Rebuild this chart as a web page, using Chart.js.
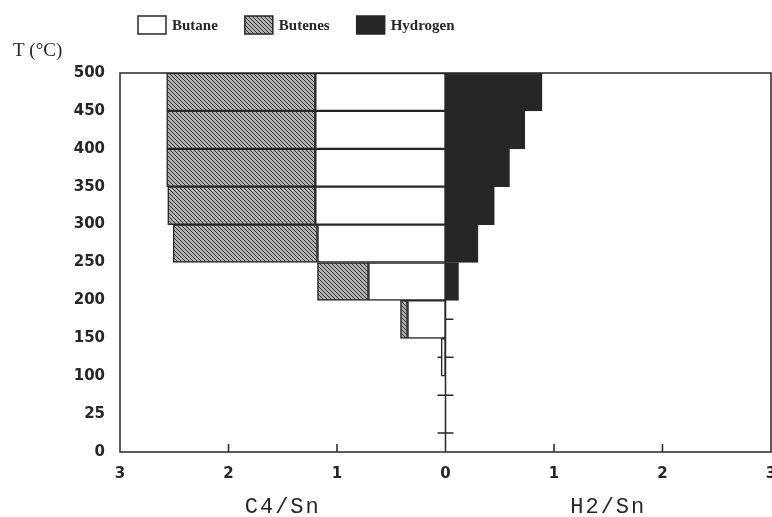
<!DOCTYPE html>
<html>
<head>
<meta charset="utf-8">
<script src="https://cdn.jsdelivr.net/npm/chart.js@4.4.0/dist/chart.umd.min.js"></script>
<style>
  html, body { margin: 0; padding: 0; background: #fff; }
  #wrap { width: 772px; height: 517px; }
</style>
</head>
<body>
<div id="wrap"><canvas id="chart"></canvas></div>
<script>
// temperature boundaries, bottom to top; each bar fills the band between two of them
const tempTicks = ['0', '25', '100', '150', '200', '250', '300', '350', '400', '450', '500'];
// one value per band, bottom band first
const butane   = [0, 0, 0.04, 0.35, 0.71, 1.18, 1.20, 1.20, 1.20, 1.20];
const butenes  = [0, 0, 0, 0.065, 0.47, 1.33, 1.36, 1.37, 1.37, 1.37];
const hydrogen = [0, 0, 0, 0, 0.12, 0.30, 0.45, 0.59, 0.73, 0.89];

const ink = '#262626';
const tickFont = { family: 'DejaVu Sans', size: 15, weight: 'bold' };

const canvas = document.getElementById('chart');

function hatchPattern() {
  const c = document.createElement('canvas');
  c.width = 4;
  c.height = 4;
  const g = c.getContext('2d');
  g.fillStyle = '#b0b0b0';
  g.fillRect(0, 0, 4, 4);
  g.strokeStyle = '#333333';
  g.lineWidth = 1;
  g.beginPath();
  g.moveTo(0, 0); g.lineTo(4, 4);
  g.moveTo(-1, 3); g.lineTo(1, 5);
  g.moveTo(3, -1); g.lineTo(5, 1);
  g.stroke();
  return canvas.getContext('2d').createPattern(c, 'repeat');
}

// left side (C4/Sn) runs to negative x, right side (H2/Sn) positive
const toPoints = (arr, sgn) => arr.map((v, i) => ({ x: v ? sgn * v : null, y: i + 0.5 }));

const barStyle = {
  borderColor: ink,
  borderWidth: 1.5,
  borderSkipped: false,
  grouped: false,
  barPercentage: 1,
  categoryPercentage: 1,
};

const decor = {
  id: 'decor',
  beforeDatasetsDraw(chart) {
    const { ctx, chartArea: a, scales: { x, y } } = chart;
    const x0 = x.getPixelForValue(0);
    ctx.save();
    ctx.strokeStyle = ink;
    ctx.lineWidth = 1.5;
    ctx.beginPath();
    ctx.moveTo(x0, a.top);
    ctx.lineTo(x0, a.bottom);
    for (let i = 0; i < tempTicks.length - 1; i++) {
      const py = y.getPixelForValue(i + 0.5);
      ctx.moveTo(x0 - 8, py);
      ctx.lineTo(x0 + 8, py);
    }
    ctx.stroke();
    ctx.restore();
  },
  afterDatasetsDraw(chart) {
    const { ctx, chartArea: a, scales: { x } } = chart;
    ctx.save();
    ctx.strokeStyle = ink;
    ctx.lineWidth = 1.5;
    ctx.strokeRect(a.left, a.top, a.right - a.left, a.bottom - a.top);
    ctx.beginPath();
    [-2, -1, 1, 2].forEach(v => {
      const px = x.getPixelForValue(v);
      ctx.moveTo(px, a.bottom);
      ctx.lineTo(px, a.bottom - 8);
    });
    ctx.stroke();
    ctx.restore();
  },
  afterDraw(chart) {
    const { ctx, scales: { x } } = chart;
    ctx.save();
    ctx.fillStyle = ink;
    ctx.textBaseline = 'alphabetic';

    // axis titles
    ctx.font = '19px "Liberation Serif"';
    ctx.textAlign = 'left';
    ctx.fillText('T (°C)', 13, 56);
    ctx.font = '22px "Liberation Mono"';
    ctx.letterSpacing = '2px';
    ctx.textAlign = 'center';
    ctx.fillText('C4/Sn', x.getPixelForValue(-1.5), 513);
    ctx.fillText('H2/Sn', x.getPixelForValue(1.5), 513);
    ctx.letterSpacing = '0px';

    // legend
    ctx.font = 'bold 15px "Liberation Serif"';
    ctx.textAlign = 'left';
    ctx.textBaseline = 'middle';
    let lx = 138;
    chart.data.datasets.forEach(ds => {
      ctx.fillStyle = ds.backgroundColor;
      ctx.fillRect(lx, 16, 28, 18);
      ctx.strokeStyle = ink;
      ctx.lineWidth = 1.5;
      ctx.strokeRect(lx, 16, 28, 18);
      ctx.fillStyle = ink;
      ctx.fillText(ds.label, lx + 34, 26);
      lx += 34 + ctx.measureText(ds.label).width + 27;
    });
    ctx.restore();
  }
};

new Chart(canvas, {
  type: 'bar',
  data: {
    datasets: [
      { label: 'Butane', data: toPoints(butane, -1), backgroundColor: '#ffffff', ...barStyle },
      { label: 'Butenes', data: toPoints(butenes, -1), backgroundColor: hatchPattern(), ...barStyle },
      { label: 'Hydrogen', data: toPoints(hydrogen, 1), backgroundColor: ink, ...barStyle },
    ],
  },
  options: {
    indexAxis: 'y',
    responsive: true,
    maintainAspectRatio: false,
    animation: false,
    layout: { padding: { top: 73, right: 1, bottom: 0, left: 0 } },
    plugins: {
      legend: { display: false },
      tooltip: { enabled: false },
    },
    scales: {
      x: {
        type: 'linear',
        min: -3,
        max: 3,
        stacked: true,
        grid: { display: false, drawTicks: false },
        border: { display: false },
        ticks: {
          stepSize: 1,
          padding: 13,
          color: ink,
          font: tickFont,
          callback: v => Math.abs(v),
        },
        afterFit: s => { s.height = 65; s.paddingLeft = 0; s.paddingRight = 0; },
      },
      y: {
        type: 'linear',
        min: 0,
        max: 10,
        offset: false,
        grid: { display: false, drawTicks: false },
        border: { display: false },
        ticks: {
          stepSize: 1,
          padding: 15,
          color: ink,
          font: tickFont,
          callback: v => tempTicks[v],
        },
        afterFit: s => { s.width = 120; s.paddingTop = 0; s.paddingBottom = 0; },
      },
    },
  },
  plugins: [decor],
});
</script>
</body>
</html>
